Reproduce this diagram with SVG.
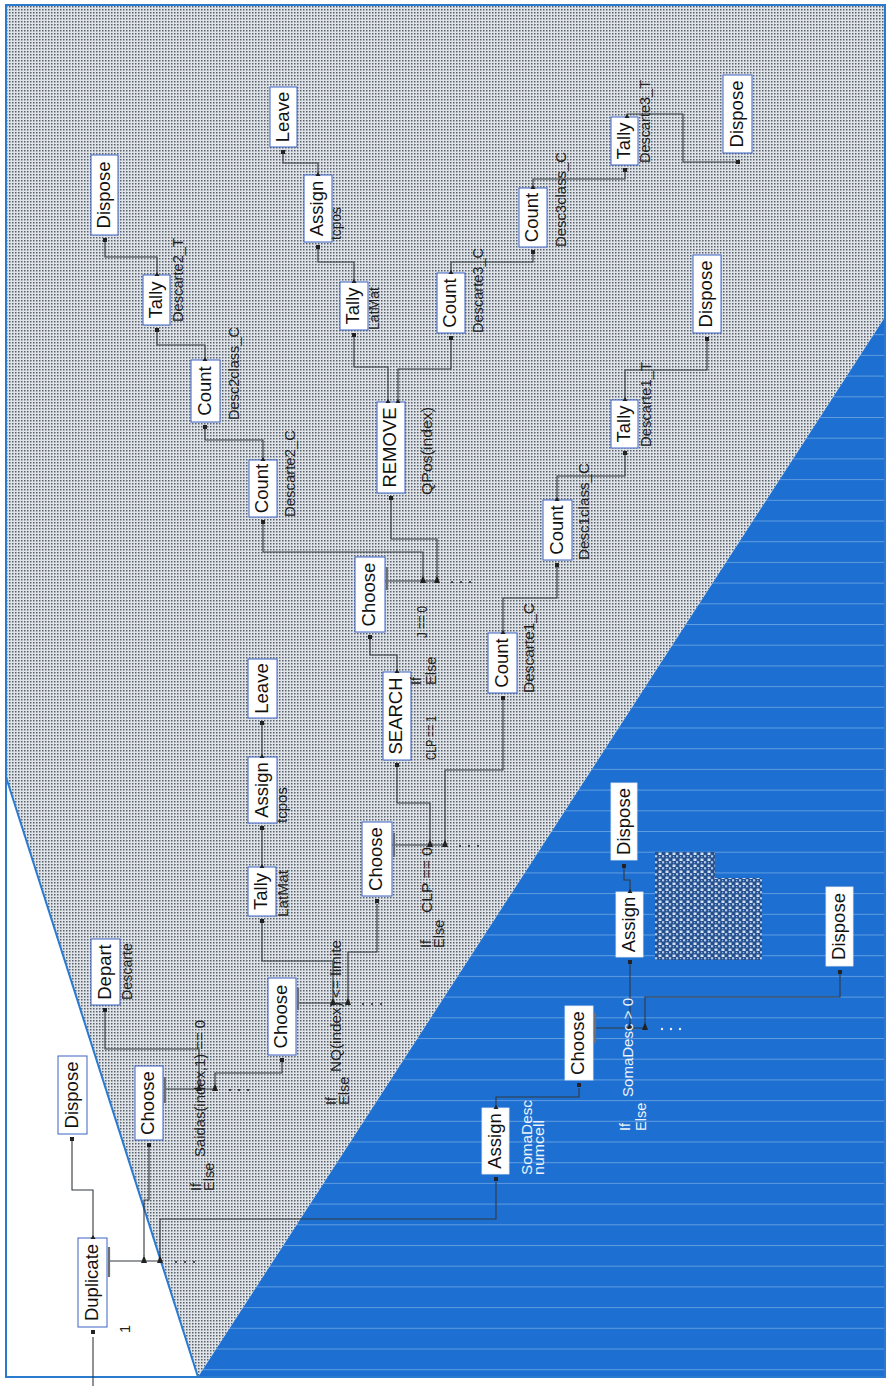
<svg xmlns="http://www.w3.org/2000/svg" width="891" height="1386" viewBox="0 0 891 1386">
<defs>
<pattern id="dots" width="3" height="3" patternUnits="userSpaceOnUse"><rect width="3" height="3" fill="#e0e4e9"/><rect width="1.5" height="1.5" fill="#56606b"/></pattern>
<pattern id="bl" x="0" y="3" width="20" height="20.7" patternUnits="userSpaceOnUse"><rect width="20" height="20.7" fill="#1d70d1"/><rect width="20" height="1" fill="#5e9be0"/></pattern>
<pattern id="garb" width="7" height="6" patternUnits="userSpaceOnUse"><rect width="7" height="6" fill="#24508f"/><rect x="0.5" y="0.5" width="3" height="2.5" fill="#d6e2f2"/><rect x="4" y="3.2" width="2.2" height="2.2" fill="#b8cbe6"/><rect x="1" y="4" width="1.2" height="1.2" fill="#8fb0dc"/></pattern>
<style>
.box{fill:#fff;stroke:#3b63c4;stroke-width:1}
.boxb{fill:#fff;stroke:#e8eef8;stroke-width:0.8}
.nt{font-family:"Liberation Sans",Arial,sans-serif;font-size:18.5px;fill:#111;text-anchor:middle}
.sl{font-family:"Liberation Sans",Arial,sans-serif;font-size:14.5px;fill:#222}
.wt{fill:#eef3fb}
.c{fill:none;stroke:#33383f;stroke-width:1.1}
.en{fill:#222}
.ar{fill:#222}
.br{stroke:#6b6f75;stroke-width:2.2}
.dt{fill:#222}
</style>
</defs>

<!-- background regions -->
<rect x="0" y="0" width="891" height="1386" fill="#fff"/>
<polygon points="6,5 885,5 885,317 198,1377 6,777" fill="url(#dots)"/>
<polygon points="198,1377 885,317 885,1377" fill="url(#bl)"/>
<polygon points="6,777 198,1377 6,1377" fill="#fff"/>
<line x1="6" y1="777" x2="198" y2="1377" stroke="#2a7ad0" stroke-width="2"/>
<rect x="6" y="5" width="879" height="1372" fill="none" stroke="#2a7ad0" stroke-width="2"/>

<!-- connectors -->
<g id="connectors" class="c">
<path d="M93,1386 V1337"/>
<path d="M93,1238 V1190 H72 V1141"/>
<path d="M109,1261 H160"/>
<path d="M144,1256 V1200 H149 V1147"/>
<path d="M160,1256 V1219 H496 V1182"/>
<path d="M165,1089 H215"/>
<path d="M199,1084 V1049 H105 V1012"/>
<path d="M215,1084 V1073 H282 V1062"/>
<path d="M297,1003 H348"/>
<path d="M333,998 V961 H262 V923"/>
<path d="M348,998 V952 H377 V904"/>
<path d="M262,867 V830"/>
<path d="M262,757 V725"/>
<path d="M392,845 H445"/>
<path d="M430,840 V803 H397 V767"/>
<path d="M445,840 V770 H503 V700"/>
<path d="M397,672 V655 H370 V639"/>
<path d="M385,581 H437"/>
<path d="M423,576 V552 H263 V524"/>
<path d="M437,576 V539 H391 V500"/>
<path d="M388,402 V367 H354 V337"/>
<path d="M398,402 V369 H451 V340"/>
<path d="M263,460 V440 H205 V429"/>
<path d="M205,360 V345 H157 V332"/>
<path d="M157,275 V257 H105 V242"/>
<path d="M354,282 V262 H318 V249"/>
<path d="M318,175 V163 H283 V154"/>
<path d="M451,273 V262 H533 V254"/>
<path d="M533,188 V179 H625 V172"/>
<path d="M627,117 V114 H683 V162 H736"/>
<path d="M503,633 V598 H557 V567"/>
<path d="M557,500 V476 H625 V455"/>
<path d="M625,400 V370 H707 V341"/>
<path d="M496,1108 V1097 H579 V1088"/>
<path d="M595,1028 H645"/>
<path d="M630,1023 V964"/>
<path d="M645,1023 V997 H840 V974"/>
<path d="M630,892 V880 H624 V868"/>
</g>

<!-- branch arrows and continuation dots -->
<g id="branch-marks">
<polygon class="ar" points="141,1263 147,1263 144,1255"/>
<polygon class="ar" points="157,1263 163,1263 160,1255"/>
<circle class="dt" cx="176" cy="1262" r="1"/><circle class="dt" cx="185" cy="1262" r="1"/><circle class="dt" cx="194" cy="1262" r="1"/>
<polygon class="ar" points="196,1091 202,1091 199,1083"/>
<polygon class="ar" points="212,1091 218,1091 215,1083"/>
<circle class="dt" cx="230" cy="1090" r="1"/><circle class="dt" cx="239" cy="1090" r="1"/><circle class="dt" cx="248" cy="1090" r="1"/>
<polygon class="ar" points="330,1005 336,1005 333,997"/>
<polygon class="ar" points="345,1005 351,1005 348,997"/>
<circle class="dt" cx="363" cy="1004" r="1"/><circle class="dt" cx="372" cy="1004" r="1"/><circle class="dt" cx="381" cy="1004" r="1"/>
<polygon class="ar" points="427,847 433,847 430,839"/>
<polygon class="ar" points="442,847 448,847 445,839"/>
<circle class="dt" cx="460" cy="846" r="1"/><circle class="dt" cx="469" cy="846" r="1"/><circle class="dt" cx="478" cy="846" r="1"/>
<polygon class="ar" points="420,583 426,583 423,575"/>
<polygon class="ar" points="434,583 440,583 437,575"/>
<circle class="dt" cx="452" cy="582" r="1"/><circle class="dt" cx="461" cy="582" r="1"/><circle class="dt" cx="470" cy="582" r="1"/>
<polygon class="ar" points="627,1030 633,1030 630,1022"/>
<polygon class="ar" points="642,1030 648,1030 645,1022"/>
<circle fill="#e8eef8" cx="662" cy="1029" r="1.2"/><circle fill="#e8eef8" cx="671" cy="1029" r="1.2"/><circle fill="#e8eef8" cx="680" cy="1029" r="1.2"/>
</g>

<!-- nodes -->
<g id="n-duplicate">
<rect class="box" x="78" y="1238" width="29" height="89"/>
<text class="nt" transform="translate(97.5,1282.5) rotate(-90)">Duplicate</text>
<rect class="en" x="91" y="1330" width="4" height="4"/>
<polygon class="ar" points="90.5,1239 95.5,1239 93,1235"/>
<line class="br" x1="109" y1="1247" x2="109" y2="1277"/>
<text class="sl" transform="translate(130,1333) rotate(-90)">1</text>
</g>
<g id="n-dispose-1">
<rect class="box" x="58" y="1056" width="29" height="78"/>
<text class="nt" transform="translate(77.5,1095) rotate(-90)">Dispose</text>
<rect class="en" x="70" y="1137" width="4" height="4"/>
</g>
<g id="n-choose-a">
<rect class="box" x="135" y="1066" width="28" height="74"/>
<text class="nt" transform="translate(154,1103) rotate(-90)">Choose</text>
<rect class="en" x="147" y="1143" width="4" height="4"/>
<line class="br" x1="165" y1="1077" x2="165" y2="1103"/>
<text class="sl" transform="translate(201,1191) rotate(-90)">If</text>
<text class="sl" transform="translate(214,1191) rotate(-90)">Else</text>
<text class="sl" transform="translate(205,1157) rotate(-90)" textLength="137" lengthAdjust="spacingAndGlyphs">Saidas(index,1) == 0</text>
</g>
<g id="n-depart">
<rect class="box" x="91" y="939" width="29" height="66"/>
<text class="nt" transform="translate(110.5,972) rotate(-90)">Depart</text>
<rect class="en" x="103" y="1008" width="4" height="4"/>
<text class="sl" transform="translate(132,1000) rotate(-90)" textLength="57" lengthAdjust="spacingAndGlyphs">Descarte</text>
</g>
<g id="n-choose-b">
<rect class="box" x="268" y="978" width="28" height="77"/>
<text class="nt" transform="translate(287,1016.5) rotate(-90)">Choose</text>
<rect class="en" x="280" y="1058" width="4" height="4"/>
<line class="br" x1="298" y1="988" x2="298" y2="1010"/>
<text class="sl" transform="translate(336,1105) rotate(-90)">If</text>
<text class="sl" transform="translate(349,1105) rotate(-90)">Else</text>
<text class="sl" transform="translate(341,1072) rotate(-90)" textLength="132" lengthAdjust="spacingAndGlyphs">NQ(index) &lt;= limite</text>
</g>
<g id="n-tally-latmat-1">
<rect class="box" x="248" y="867" width="28" height="49"/>
<text class="nt" transform="translate(267,891.5) rotate(-90)">Tally</text>
<rect class="en" x="260" y="919" width="4" height="4"/>
<polygon class="ar" points="259.5,868 264.5,868 262,864"/>
<text class="sl" transform="translate(288,917) rotate(-90)" textLength="47" lengthAdjust="spacingAndGlyphs">LatMat</text>
</g>
<g id="n-assign-tcpos-1">
<rect class="box" x="248" y="757" width="29" height="66"/>
<text class="nt" transform="translate(267.5,790) rotate(-90)">Assign</text>
<rect class="en" x="260" y="826" width="4" height="4"/>
<polygon class="ar" points="259.5,758 264.5,758 262,754"/>
<text class="sl" transform="translate(287,823) rotate(-90)" textLength="36" lengthAdjust="spacingAndGlyphs">tcpos</text>
</g>
<g id="n-leave-1">
<rect class="box" x="248" y="659" width="29" height="59"/>
<text class="nt" transform="translate(267.5,688.5) rotate(-90)">Leave</text>
<rect class="en" x="260" y="721" width="4" height="4"/>
</g>
<g id="n-choose-c">
<rect class="box" x="362" y="822" width="30" height="74"/>
<text class="nt" transform="translate(382,859) rotate(-90)">Choose</text>
<rect class="en" x="375" y="899" width="4" height="4"/>
<line class="br" x1="394" y1="833" x2="394" y2="857"/>
<text class="sl" transform="translate(431,948) rotate(-90)">If</text>
<text class="sl" transform="translate(444,948) rotate(-90)">Else</text>
<text class="sl" transform="translate(432,913) rotate(-90)" textLength="66" lengthAdjust="spacingAndGlyphs">CLP == 0</text>
</g>
<g id="n-search">
<rect class="box" x="383" y="672" width="28" height="88"/>
<text class="nt" transform="translate(402,716) rotate(-90)">SEARCH</text>
<rect class="en" x="395" y="763" width="4" height="4"/>
<polygon class="ar" points="394.5,673 399.5,673 397,669"/>
<text class="sl" transform="translate(436,760) rotate(-90)" textLength="44" lengthAdjust="spacingAndGlyphs">CLP == 1</text>
</g>
<g id="n-choose-d">
<rect class="box" x="355" y="557" width="30" height="75"/>
<text class="nt" transform="translate(375,594.5) rotate(-90)">Choose</text>
<rect class="en" x="368" y="635" width="4" height="4"/>
<line class="br" x1="387" y1="567" x2="387" y2="590"/>
<text class="sl" transform="translate(421,685) rotate(-90)">If</text>
<text class="sl" transform="translate(436,685) rotate(-90)">Else</text>
<text class="sl" transform="translate(427,638) rotate(-90)" textLength="32" lengthAdjust="spacingAndGlyphs">J == 0</text>
</g>
<g id="n-remove">
<rect class="box" x="377" y="402" width="28" height="91"/>
<text class="nt" transform="translate(396,447.5) rotate(-90)">REMOVE</text>
<rect class="en" x="389" y="496" width="4" height="4"/>
<polygon class="ar" points="385.5,403 390.5,403 388,399"/>
<polygon class="ar" points="395.5,403 400.5,403 398,399"/>
<text class="sl" transform="translate(432,495) rotate(-90)" textLength="88" lengthAdjust="spacingAndGlyphs">QPos(index)</text>
</g>
<g id="n-count-descarte2-c">
<rect class="box" x="249" y="460" width="28" height="57"/>
<text class="nt" transform="translate(268,488.5) rotate(-90)">Count</text>
<rect class="en" x="261" y="520" width="4" height="4"/>
<polygon class="ar" points="260.5,461 265.5,461 263,457"/>
<text class="sl" transform="translate(295,517) rotate(-90)" textLength="87" lengthAdjust="spacingAndGlyphs">Descarte2_C</text>
</g>
<g id="n-count-desc2class-c">
<rect class="box" x="191" y="360" width="29" height="62"/>
<text class="nt" transform="translate(210.5,391) rotate(-90)">Count</text>
<rect class="en" x="203" y="425" width="4" height="4"/>
<polygon class="ar" points="202.5,361 207.5,361 205,357"/>
<text class="sl" transform="translate(239,420) rotate(-90)" textLength="93" lengthAdjust="spacingAndGlyphs">Desc2class_C</text>
</g>
<g id="n-tally-descarte2-t">
<rect class="box" x="143" y="275" width="27" height="50"/>
<text class="nt" transform="translate(162,300) rotate(-90)">Tally</text>
<rect class="en" x="155" y="328" width="4" height="4"/>
<polygon class="ar" points="154.5,276 159.5,276 157,272"/>
<text class="sl" transform="translate(183,322) rotate(-90)" textLength="84" lengthAdjust="spacingAndGlyphs">Descarte2_T</text>
</g>
<g id="n-dispose-2">
<rect class="box" x="91" y="155" width="27" height="80"/>
<text class="nt" transform="translate(110,195) rotate(-90)">Dispose</text>
<rect class="en" x="103" y="238" width="4" height="4"/>
</g>
<g id="n-tally-latmat-2">
<rect class="box" x="340" y="282" width="28" height="48"/>
<text class="nt" transform="translate(359,306) rotate(-90)">Tally</text>
<rect class="en" x="352" y="333" width="4" height="4"/>
<polygon class="ar" points="351.5,283 356.5,283 354,279"/>
<text class="sl" transform="translate(379,330) rotate(-90)" textLength="43" lengthAdjust="spacingAndGlyphs">LatMat</text>
</g>
<g id="n-assign-tcpos-2">
<rect class="box" x="304" y="175" width="28" height="67"/>
<text class="nt" transform="translate(323,208.5) rotate(-90)">Assign</text>
<rect class="en" x="316" y="245" width="4" height="4"/>
<polygon class="ar" points="315.5,176 320.5,176 318,172"/>
<text class="sl" transform="translate(341,240) rotate(-90)" textLength="33" lengthAdjust="spacingAndGlyphs">tcpos</text>
</g>
<g id="n-leave-2">
<rect class="box" x="270" y="87" width="27" height="60"/>
<text class="nt" transform="translate(289,117) rotate(-90)">Leave</text>
<rect class="en" x="281" y="150" width="4" height="4"/>
</g>
<g id="n-count-descarte3-c">
<rect class="box" x="437" y="273" width="28" height="60"/>
<text class="nt" transform="translate(456,303) rotate(-90)">Count</text>
<rect class="en" x="449" y="336" width="4" height="4"/>
<polygon class="ar" points="448.5,274 453.5,274 451,270"/>
<text class="sl" transform="translate(483,333) rotate(-90)" textLength="85" lengthAdjust="spacingAndGlyphs">Descarte3_C</text>
</g>
<g id="n-count-desc3class-c">
<rect class="box" x="519" y="188" width="28" height="59"/>
<text class="nt" transform="translate(538,217.5) rotate(-90)">Count</text>
<rect class="en" x="531" y="250" width="4" height="4"/>
<polygon class="ar" points="530.5,189 535.5,189 533,185"/>
<text class="sl" transform="translate(566,247) rotate(-90)" textLength="95" lengthAdjust="spacingAndGlyphs">Desc3class_C</text>
</g>
<g id="n-tally-descarte3-t">
<rect class="box" x="611" y="117" width="27" height="48"/>
<text class="nt" transform="translate(630,141) rotate(-90)">Tally</text>
<rect class="en" x="623" y="168" width="4" height="4"/>
<polygon class="ar" points="624.5,118 629.5,118 627,114"/>
<text class="sl" transform="translate(650,163) rotate(-90)" textLength="83" lengthAdjust="spacingAndGlyphs">Descarte3_T</text>
</g>
<g id="n-dispose-3">
<rect class="box" x="723" y="75" width="29" height="78"/>
<text class="nt" transform="translate(742.5,114) rotate(-90)">Dispose</text>
<rect class="en" x="736" y="160" width="4" height="4"/>
</g>
<g id="n-count-descarte1-c">
<rect class="box" x="488" y="633" width="29" height="60"/>
<text class="nt" transform="translate(507.5,663) rotate(-90)">Count</text>
<rect class="en" x="501" y="696" width="4" height="4"/>
<polygon class="ar" points="500.5,634 505.5,634 503,630"/>
<text class="sl" transform="translate(534,693) rotate(-90)" textLength="90" lengthAdjust="spacingAndGlyphs">Descarte1_C</text>
</g>
<g id="n-count-desc1class-c">
<rect class="box" x="543" y="500" width="29" height="60"/>
<text class="nt" transform="translate(562.5,530) rotate(-90)">Count</text>
<rect class="en" x="555" y="563" width="4" height="4"/>
<polygon class="ar" points="554.5,501 559.5,501 557,497"/>
<text class="sl" transform="translate(589,560) rotate(-90)" textLength="97" lengthAdjust="spacingAndGlyphs">Desc1class_C</text>
</g>
<g id="n-tally-descarte1-t">
<rect class="box" x="611" y="400" width="27" height="48"/>
<text class="nt" transform="translate(630,424) rotate(-90)">Tally</text>
<rect class="en" x="623" y="451" width="4" height="4"/>
<polygon class="ar" points="622.5,401 627.5,401 625,397"/>
<text class="sl" transform="translate(651,447) rotate(-90)" textLength="85" lengthAdjust="spacingAndGlyphs">Descarte1_T</text>
</g>
<g id="n-dispose-4">
<rect class="box" x="693" y="255" width="28" height="78"/>
<text class="nt" transform="translate(712,294) rotate(-90)">Dispose</text>
<rect class="en" x="705" y="337" width="4" height="4"/>
</g>

<!-- blue region nodes -->
<g id="n-assign-somadesc">
<rect class="boxb" x="482" y="1108" width="27" height="66"/>
<text class="nt" transform="translate(501,1141) rotate(-90)">Assign</text>
<rect class="en" x="494" y="1177" width="4" height="4"/>
<polygon class="ar" points="493.5,1109 498.5,1109 496,1105"/>
<text class="sl wt" transform="translate(532,1175) rotate(-90)" textLength="75" lengthAdjust="spacingAndGlyphs">SomaDesc</text>
<text class="sl wt" transform="translate(544,1175) rotate(-90)" textLength="55" lengthAdjust="spacingAndGlyphs">numcell</text>
</g>
<g id="n-choose-blue">
<rect class="boxb" x="565" y="1006" width="28" height="74"/>
<text class="nt" transform="translate(584,1043) rotate(-90)">Choose</text>
<rect class="en" x="577" y="1083" width="4" height="4"/>
<line class="br" x1="595" y1="1013" x2="595" y2="1043"/>
<text class="sl wt" transform="translate(630,1131) rotate(-90)">If</text>
<text class="sl wt" transform="translate(646,1131) rotate(-90)">Else</text>
<text class="sl wt" transform="translate(633,1097) rotate(-90)" textLength="99" lengthAdjust="spacingAndGlyphs">SomaDesc &gt; 0</text>
</g>
<g id="n-assign-blue">
<rect class="boxb" x="616" y="892" width="27" height="65"/>
<text class="nt" transform="translate(635,924.5) rotate(-90)">Assign</text>
<rect class="en" x="628" y="960" width="4" height="4"/>
<polygon class="ar" points="627.5,893 632.5,893 630,889"/>
<polygon points="655,852 715,852 715,878 762,878 762,960 655,960" fill="url(#garb)"/>
</g>
<g id="n-dispose-blue-1">
<rect class="boxb" x="611" y="783" width="26" height="77"/>
<text class="nt" transform="translate(629.5,821.5) rotate(-90)">Dispose</text>
<rect class="en" x="622" y="864" width="4" height="4"/>
</g>
<g id="n-dispose-blue-2">
<rect class="boxb" x="826" y="887" width="27" height="79"/>
<text class="nt" transform="translate(845,926.5) rotate(-90)">Dispose</text>
<rect class="en" x="838" y="970" width="4" height="4"/>
</g>
</svg>
